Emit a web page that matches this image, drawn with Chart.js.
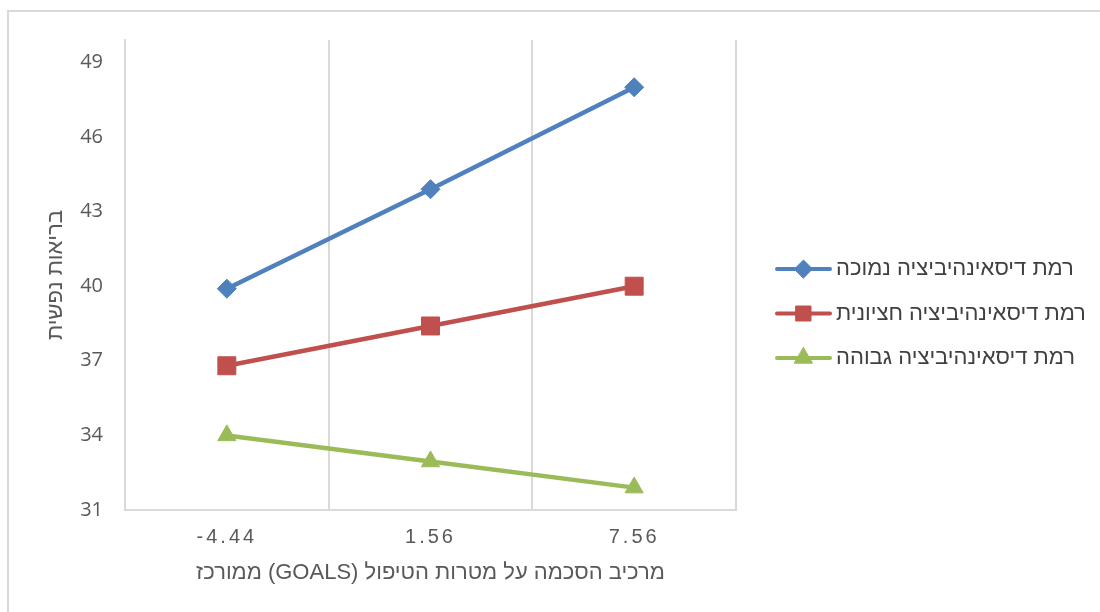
<!DOCTYPE html>
<html>
<head>
<meta charset="utf-8">
<script src="https://cdn.jsdelivr.net/npm/chart.js@4.4.0/dist/chart.umd.min.js"></script>
<style>
  html, body { margin: 0; padding: 0; background: #fff; }
  canvas { display: block; }
</style>
</head>
<body>
<canvas id="myLineChart" width="1100" height="612"></canvas>
<script>
const xLabels = ['-4.44', '1.56', '7.56'];
const yTicks = [31, 34, 37, 40, 43, 46, 49];
const seriesNames = [
    'רמת דיסאינהיביציה נמוכה',
    'רמת דיסאינהיביציה חציונית',
    'רמת דיסאינהיביציה גבוהה'
];
const lowValues = [39.9, 43.9, 48.0];
const midValues = [36.8, 38.4, 40.0];
const highValues = [34.0, 32.95, 31.9];
const xTitle = 'מרכיב הסכמה על מטרות הטיפול (GOALS) ממורכז';
const yTitle = 'בריאות נפשית';

const gridColor = '#d9d9d9';
const textColor = '#595959';
const titleFont = { family: 'Liberation Sans', size: 22 };

const seriesStyles = [
    { color: '#4f81bd', pointStyle: 'rectRot', radius: 9.5, legendRadius: 9 },
    { color: '#c0504d', pointStyle: 'rect', radius: 12.7, legendRadius: 10.6 },
    { color: '#9bbb59', pointStyle: 'triangle', radius: 10.5, legendRadius: 10.4 }
];

// white background plus the top/left frame lines
const frame = {
    id: 'frame',
    beforeDraw(chart) {
        const { ctx } = chart;
        ctx.save();
        ctx.fillStyle = '#fff';
        ctx.fillRect(0, 0, chart.width, chart.height);
        ctx.strokeStyle = gridColor;
        ctx.lineWidth = 2;
        ctx.beginPath();
        ctx.moveTo(8, chart.height);
        ctx.lineTo(8, 11);
        ctx.lineTo(chart.width, 11);
        ctx.stroke();
        ctx.restore();
    }
};

// legend on the right: line sample with marker, hebrew label after it
const sideLegend = {
    id: 'sideLegend',
    afterDraw(chart, args, opts) {
        const { ctx, chartArea } = chart;
        const sets = chart.data.datasets;
        const top = opts.centerY - (sets.length - 1) * opts.rowGap / 2;
        const x = chartArea.right + opts.gap;
        sets.forEach((ds, i) => {
            const y = top + i * opts.rowGap;
            ctx.save();
            ctx.strokeStyle = ds.borderColor;
            ctx.lineWidth = opts.lineWidth;
            ctx.lineCap = 'round';
            ctx.beginPath();
            ctx.moveTo(x, y);
            ctx.lineTo(x + opts.lineLength, y);
            ctx.stroke();
            ctx.fillStyle = ds.borderColor;
            ctx.lineWidth = 1;
            Chart.helpers.drawPoint(ctx, {
                pointStyle: ds.pointStyle,
                radius: seriesStyles[i].legendRadius,
                rotation: 0,
                borderWidth: 1
            }, x + opts.lineLength / 2, y);
            ctx.fillStyle = opts.color;
            ctx.font = opts.font;
            ctx.direction = 'rtl';
            ctx.textAlign = 'left';
            ctx.textBaseline = 'middle';
            ctx.fillText(ds.label, x + opts.lineLength + opts.textGap, y);
            ctx.restore();
        });
    }
};

const valueLists = [lowValues, midValues, highValues];
const datasets = valueLists.map((values, i) => ({
    label: seriesNames[i],
    data: values,
    borderColor: seriesStyles[i].color,
    backgroundColor: seriesStyles[i].color,
    borderWidth: 4.5,
    pointStyle: seriesStyles[i].pointStyle,
    pointRadius: seriesStyles[i].radius,
    pointHoverRadius: seriesStyles[i].radius,
    pointBorderWidth: 1,
    tension: 0,
    fill: false
}));

const lineConfig = {
    type: 'line',
    data: { labels: xLabels, datasets: datasets },
    options: {
        responsive: false,
        animation: false,
        devicePixelRatio: 1,
        layout: { padding: { top: 40, right: 364, bottom: 26, left: 0 } },
        scales: {
            x: {
                offset: true,
                grid: { offset: true, color: gridColor, lineWidth: 2, drawTicks: false },
                border: { color: gridColor, width: 2 },
                ticks: { color: textColor, font: { family: 'Liberation Sans', size: 20 }, padding: 15 },
                title: { display: true, text: xTitle, color: textColor, font: titleFont, padding: { top: 0, bottom: 0 } },
                afterFit(scale) {
                    scale.height = 76;
                    if (!scale.spaced) {
                        // spaced-out tick digits, right-to-left title
                        const drawLabels = scale.drawLabels;
                        const drawTitle = scale.drawTitle;
                        scale.drawLabels = function (area) {
                            this.ctx.save();
                            this.ctx.direction = 'ltr';
                            this.ctx.letterSpacing = '3px';
                            drawLabels.call(this, area);
                            this.ctx.restore();
                        };
                        scale.drawTitle = function () {
                            this.ctx.save();
                            this.ctx.direction = 'rtl';
                            drawTitle.call(this);
                            this.ctx.restore();
                        };
                        scale.spaced = true;
                    }
                }
            },
            y: {
                min: 31,
                max: 49.9,
                afterBuildTicks(scale) {
                    scale.ticks = yTicks.map(v => ({ value: v }));
                },
                grid: { display: false, drawTicks: false },
                border: { color: gridColor, width: 2 },
                ticks: { color: textColor, font: { family: 'Open Sans', size: 20 }, padding: 22 },
                title: { display: true, text: yTitle, color: textColor, font: titleFont, padding: { top: 43, bottom: 0 } },
                afterFit(scale) {
                    scale.width = 125;
                }
            }
        },
        plugins: {
            legend: { display: false },
            tooltip: { enabled: false },
            sideLegend: {
                gap: 41,
                lineLength: 53,
                lineWidth: 4,
                textGap: 6,
                centerY: 313.5,
                rowGap: 44.5,
                color: '#404040',
                font: '22px "Liberation Sans"'
            }
        }
    },
    plugins: [frame, sideLegend]
};

const myLineChart = new Chart(document.getElementById('myLineChart').getContext('2d'), lineConfig);
</script>
</body>
</html>
